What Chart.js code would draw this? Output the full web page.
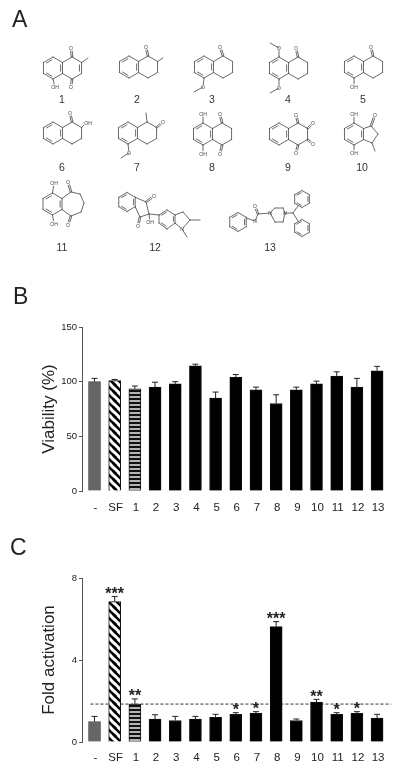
<!DOCTYPE html>
<html>
<head>
<meta charset="utf-8">
<script src="https://cdn.jsdelivr.net/npm/chart.js@4"></script>
<style>
html,body{margin:0;padding:0;background:#fff;}
#page{position:relative;width:400px;height:774px;overflow:hidden;font-family:"Liberation Sans",Arial,sans-serif;color:#222;filter:blur(0.3px);}
.panel{position:absolute;font-size:23px;line-height:23px;color:#222;}
.num{position:absolute;font-size:10.5px;line-height:12px;width:30px;text-align:center;color:#333;}
canvas{position:absolute;left:0;}
svg{position:absolute;left:0;top:0;}
svg text{font-family:"Liberation Sans",Arial,sans-serif;font-size:5px;fill:#444;text-anchor:middle;dominant-baseline:central;}
</style>
</head>
<body>
<div id="page">
  <div class="panel" style="left:12px;top:8px">A</div>
  <div class="panel" style="left:13px;top:285px">B</div>
  <div class="panel" style="left:10px;top:536px">C</div>
  <svg id="mol" width="400" height="300" viewBox="0 0 400 300"></svg>
  <canvas id="viab" width="400" height="210" style="top:310px;width:400px;height:210px"></canvas>
  <canvas id="fold" width="400" height="209" style="top:565px;width:400px;height:209px"></canvas>
</div>
<script>
// ---------- chart data ----------
const categories = ["-","SF","1","2","3","4","5","6","7","8","9","10","11","12","13"];
const viability      = [100,101,93.5,95,98,114.5,85,104,92.5,80,92.5,98,105,95,110];
const viabilityUpper = [103,102,96,99.5,100,116,90.5,106.5,95,88,95,100.5,109,103,114];
const foldActivation = [1.0,6.85,1.85,1.12,1.05,1.12,1.2,1.35,1.4,5.63,1.05,1.95,1.35,1.4,1.17];
const foldUpper      = [1.25,7.1,2.1,1.33,1.25,1.25,1.35,1.43,1.48,5.87,1.12,2.08,1.43,1.48,1.35];
const significance   = ["","***","**","","","","","*","*","***","","**","*","*",""];
const threshold = 1.85;
const viabilityTicks = [0,50,100,150];
const foldTicks = [0,4,8];
const structureNames = ["1","2","3","4","5","6","7","8","9","10","11","12","13"];

// ---------- fills ----------
function diagonalPattern(){
  const c=document.createElement('canvas');c.width=8;c.height=8;
  const g=c.getContext('2d');g.fillStyle='#fff';g.fillRect(0,0,8,8);
  g.strokeStyle='#000';g.lineWidth=2.6;
  [[-4,-4,4,4],[0,0,8,8],[4,-4,12,4],[-4,4,4,12]].forEach(s=>{g.beginPath();g.moveTo(s[0],s[1]);g.lineTo(s[2],s[3]);g.stroke();});
  return g.createPattern(c,'repeat');
}
function stripePattern(){
  const c=document.createElement('canvas');c.width=4;c.height=4;
  const g=c.getContext('2d');g.fillStyle='#b5b5b5';g.fillRect(0,0,4,4);
  g.fillStyle='#111';g.fillRect(0,0,4,2);
  return g.createPattern(c,'repeat');
}
const diag=diagonalPattern(), stripes=stripePattern();
const fills=categories.map((c,i)=>i===0?'#666666':i===1?diag:i===2?stripes:'#000000');
const edges=categories.map((c,i)=>i===0?'#4a4a4a':'#111111');

// ---------- plugins: error caps and stars, placed through the scales ----------
const errorBars={id:'errorBars',afterDatasetsDraw(chart,a,opts){
  const ctx=chart.ctx,x=chart.scales.x,y=chart.scales.y;
  ctx.save();ctx.strokeStyle='#222';ctx.lineWidth=1;
  opts.upper.forEach((u,i)=>{
    const px=x.getPixelForValue(i);
    ctx.beginPath();
    ctx.moveTo(px,y.getPixelForValue(opts.values[i]));ctx.lineTo(px,y.getPixelForValue(u));
    ctx.moveTo(px-3,y.getPixelForValue(u));ctx.lineTo(px+3,y.getPixelForValue(u));
    ctx.stroke();
  });
  if(opts.stars){
    ctx.fillStyle='#222';ctx.font='bold 16px "Liberation Sans"';ctx.textAlign='center';ctx.textBaseline='alphabetic';
    opts.stars.forEach((s,i)=>{ if(s) ctx.fillText(s,x.getPixelForValue(i),y.getPixelForValue(opts.upper[i])+2.5); });
  }
  ctx.restore();
}};

function makeChart(id,values,upper,title,maxV,step,tickVals,padTop,xHeight,tickPad,extra,stars){
  const barData=values.map((v,i)=>({x:i,y:v}));
  const datasets=[{type:'bar',data:barData,backgroundColor:fills,borderColor:edges,borderWidth:1,barThickness:12,order:1}];
  if(extra) datasets.push(extra);
  return new Chart(document.getElementById(id),{
    type:'bar',
    data:{datasets},
    plugins:[errorBars],
    options:{
      responsive:false,animation:false,
      layout:{padding:{top:padTop,right:8,left:0,bottom:0}},
      plugins:{legend:{display:false},tooltip:{enabled:false},title:{display:false},
        errorBars:{values,upper,stars}},
      scales:{
        x:{type:'linear',offset:false,min:-0.62,max:14.74,
          grid:{display:false,offset:false},border:{display:false},
          afterFit(s){s.height=xHeight;},
          ticks:{stepSize:1,includeBounds:false,autoSkip:false,maxRotation:0,minRotation:0,padding:tickPad,labelOffset:1,
            color:'#222',font:{family:'"Liberation Sans"',size:11.5},
            callback:v=>categories[Math.round(v)]}},
        y:{min:0,max:maxV,
          afterBuildTicks(s){s.ticks=tickVals.map(v=>({value:v}));},
          afterFit(s){s.width=82;},
          grid:{display:true,drawOnChartArea:false,drawTicks:true,tickLength:3,color:'#555',lineWidth:1},
          border:{display:true,color:'#555',width:1},
          ticks:{stepSize:step,padding:2,color:'#222',font:{family:'"Liberation Sans"',size:9.5}},
          title:{display:true,text:title,color:'#222',font:{family:'"Liberation Sans"',size:17},padding:{top:39,bottom:0}}}
      }
    }
  });
}

makeChart('viab',viability,viabilityUpper,'Viability (%)',150,50,viabilityTicks,17,29,2,null,null);
makeChart('fold',foldActivation,foldUpper,'Fold activation',8,4,foldTicks,13,32,1,
  {type:'line',data:[{x:-0.2,y:threshold},{x:14.7,y:threshold}],borderColor:'#333',borderWidth:1,borderDash:[3,2],pointRadius:0,fill:false,order:2},
  significance);

// ---------- panel A: structures ----------
const svg=document.getElementById('mol');const NS='http://www.w3.org/2000/svg';
function ln(x1,y1,x2,y2,w){const e=document.createElementNS(NS,'line');
  e.setAttribute('x1',x1);e.setAttribute('y1',y1);e.setAttribute('x2',x2);e.setAttribute('y2',y2);
  e.setAttribute('stroke','#444');e.setAttribute('stroke-width',w||0.8);e.setAttribute('stroke-linecap','round');svg.appendChild(e);}
function tx(t,x,y){const e=document.createElementNS(NS,'text');e.setAttribute('x',x);e.setAttribute('y',y);e.textContent=t;svg.appendChild(e);}
function path(pts,close){for(let i=0;i<pts.length-1;i++)ln(pts[i][0],pts[i][1],pts[i+1][0],pts[i+1][1]);
  if(close)ln(pts[pts.length-1][0],pts[pts.length-1][1],pts[0][0],pts[0][1]);}
function inner(a,b,c){const k=.2,s=.14;const p=[a[0]+(c[0]-a[0])*k,a[1]+(c[1]-a[1])*k],q=[b[0]+(c[0]-b[0])*k,b[1]+(c[1]-b[1])*k];
  ln(p[0]+(q[0]-p[0])*s,p[1]+(q[1]-p[1])*s,q[0]+(p[0]-q[0])*s,q[1]+(p[1]-q[1])*s);}
function hex(cx,cy,b){const w=b*.866;return [[cx,cy-b],[cx+w,cy-b/2],[cx+w,cy+b/2],[cx,cy+b],[cx-w,cy+b/2],[cx-w,cy-b/2]];}
function benz(cx,cy,b,skip){const h=hex(cx,cy,b);path(h,true);[[5,0],[1,2],[3,4]].forEach(e=>inner(h[e[0]],h[e[1]],[cx,cy]));return h;}
function dbl(a,b,short){const dx=b[0]-a[0],dy=b[1]-a[1],L=Math.hypot(dx,dy),nx=-dy/L*.8,ny=dx/L*.8,e=(L-short)/L;
  ln(a[0]+nx,a[1]+ny,a[0]+dx*e+nx,a[1]+dy*e+ny);ln(a[0]-nx,a[1]-ny,a[0]+dx*e-nx,a[1]+dy*e-ny);}
function sgl(a,b,short){const dx=b[0]-a[0],dy=b[1]-a[1],L=Math.hypot(dx,dy),e=(L-(short||0))/L;ln(a[0],a[1],a[0]+dx*e,a[1]+dy*e);}
function oxo(v,x,y){dbl(v,[x,y],3.2);tx('O',x,y);}
function oh(v,x,y,dxl){sgl(v,[x,y],3.2);tx('OH',x+(dxl||0),y);}
function ome(v,x,y,mx,my){sgl(v,[x,y],2.6);tx('O',x,y);sgl([x,y],[mx,my]);}
function bicyc(cx,cy){const b=11,w=b*.866;const L=benz(cx,cy,b);
  const R=[[cx+2*w,cy-b],[cx+3*w,cy-b/2],[cx+3*w,cy+b/2],[cx+2*w,cy+b]];
  path([L[1],R[0],R[1],R[2],R[3],L[2]]);return {L,R};}

let m;
m=bicyc(53,68);oxo(m.R[0],71,48);oxo(m.R[3],71,87);sgl(m.R[1],[88,58]);oh(m.L[3],55,87);inner(m.R[1],m.R[2],[71,68]);
m=bicyc(129,67);oxo(m.R[0],146,47);sgl(m.R[1],[163,58]);
m=bicyc(204,67);oxo(m.R[0],220,47);ome(m.L[3],203,87,194,92);
m=bicyc(279,68);oxo(m.R[0],296,48);ome(m.L[0],279,48,270,43);ome(m.L[3],279,88,270,93);
m=bicyc(354,67);oxo(m.R[0],371,47);oh(m.L[3],354,87);
m=bicyc(53,133);oxo(m.R[0],70,113);oh(m.R[1],86,123,2);
m=bicyc(128,133);sgl(m.R[0],[146,113]);oxo(m.R[1],163,122);ome(m.L[3],129,153,121,158);
m=bicyc(203,134);oh(m.L[0],203,114);oh(m.L[3],203,154);oxo(m.R[0],220,114);oxo(m.R[3],220,154);
m=bicyc(279,134);oxo(m.R[0],296,115);oxo(m.R[3],296,153);oxo(m.R[1],313,123);oxo(m.R[2],313,144);

// 10: fused five-ring
(function(){const L=benz(354,134,11);const c=[371,126],d=[378,134],e=[372,143];
  path([L[1],c,d,e,L[2]]);oxo(c,375,115);sgl(e,[375,151]);oh(L[0],354,114);oh(L[3],354,153);})();
// 11: fused seven-ring
(function(){const L=benz(52.5,204,11);const a=[71,192],b=[80,194],c=[84,203],d=[81,212],e=[71,216];
  path([L[1],a,b,c,d,e,L[2]]);oxo(a,68,182);oxo(e,68,225);oh(L[0],54,183);oh(L[3],54,224);})();
// 12: indandione with indoline
(function(){const L=benz(127,202,9.5);const a=[146,202],c=[149,214],d=[140,217];
  path([L[1],a,c,d,L[2]]);oxo(a,154,196);oxo(d,138,226);oh(c,150,222);
  const p=[[159,215],[167,210],[175,215],[175,223],[167,229],[159,223]];
  path(p,true);inner(p[0],p[1],[167,219]);inner(p[2],p[3],[167,219]);inner(p[4],p[5],[167,219]);
  sgl(c,p[0]);
  const g=[183,212],h=[190,220],n=[182,229];
  path([p[2],g,h]);sgl(h,n,1.5);sgl(p[3],n,1.5);tx('N',182,229);sgl(h,[200,220]);sgl(n,[187,237]);})();
// 13: urea piperazine
(function(){benz(238,222,9.5);sgl([246,218],[255,221],1.5);tx('N',255,221);sgl([255,221],[258,214]);
  oxo([258,214],255,206);sgl([258,214],[270,213],1.5);tx('N',270,213);
  path([[270,213],[275,208],[283,208],[285,213]]);path([[270,213],[275,222],[283,222],[285,213]]);tx('N',285,213);
  sgl([285,213],[293,213]);benz(302,199,8.5);benz(302,228,8.5);sgl([293,213],[298,206]);sgl([293,213],[298,221]);})();

// compound numbers
const numberSpots=[[62,99],[137,99],[212,99],[288,99],[363,99],[62,167],[137,167],[212,167],[288,167],[362,167],[62,247],[155,247],[270,247]];
structureNames.forEach((t,i)=>{const d=document.createElement('div');d.className='num';d.textContent=t;
  d.style.left=(numberSpots[i][0]-15)+'px';d.style.top=(numberSpots[i][1]-6)+'px';document.getElementById('page').appendChild(d);});
</script>
</body>
</html>
